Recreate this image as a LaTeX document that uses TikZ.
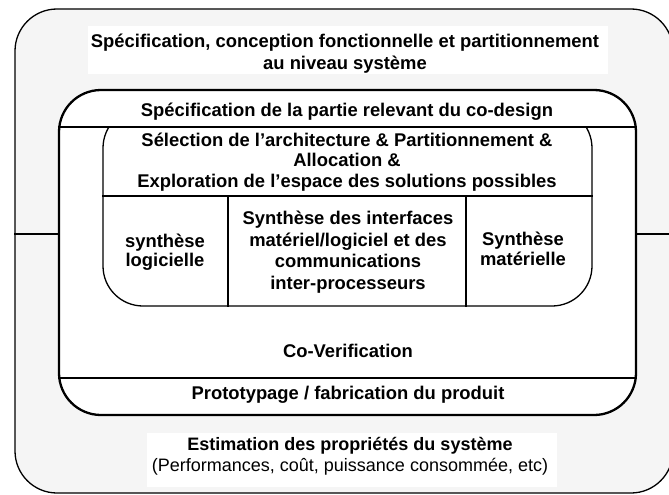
\documentclass[tikz,border=0pt]{standalone}
\usepackage{fontspec}
\setmainfont{Liberation Sans}
\definecolor{bggray}{HTML}{F5F5F5}
\begin{document}
\begin{tikzpicture}[x=1pt,y=-1pt,
  lbl/.style={font=\fontsize{18.4}{22}\selectfont\bfseries, align=center, inner sep=0pt},
  thin/.style={line width=1.3pt},
  thick/.style={line width=2.3pt}]
\useasboundingbox (0,0) rectangle (669,495);
\clip (0,0) rectangle (669,495);
% outer box
\node[draw, thin, fill=bggray, rounded corners=42pt, minimum width=658pt, minimum height=484pt, inner sep=0pt] (outer) at (344,251) {};
% middle box
\node[draw, thick, fill=white, rounded corners=42pt, minimum width=577pt, minimum height=325pt, inner sep=0pt] (mid) at (347.5,252.5) {};
\coordinate (hl) at (0,234);
\coordinate (d1) at (0,127);
\coordinate (d2) at (0,378);
\coordinate (d3) at (0,196);
\coordinate (c1) at (228,0);
\coordinate (c2) at (466,0);
\draw[thin] (outer.west |- hl) -- (mid.west |- hl);
\draw[thin] (mid.east |- hl) -- (outer.east |- hl);
\draw[thin] (mid.west |- d1) -- (mid.east |- d1);
\draw[thin] (mid.west |- d2) -- (mid.east |- d2);
% inner box, top clipped by the divider
\begin{scope}
\clip (0,127) rectangle (669,495);
\node[draw, thin, rounded corners=40pt, minimum width=489pt, minimum height=198pt, inner sep=0pt] (inner) at (347.5,207) {};
\end{scope}
\draw[thin] (inner.west |- d3) -- (inner.east |- d3);
\draw[thin] (c1 |- d3) -- (c1 |- inner.south);
\draw[thin] (c2 |- d3) -- (c2 |- inner.south);
% texts
\node[fill=white, minimum width=520pt, minimum height=48pt, inner sep=0pt] (t1box) at (348,50) {};
\node[lbl] (t1) at (345,54) {Spécification, conception fonctionnelle et partitionnement\\au niveau système};
\node[lbl] (t2) at (347,112) {Spécification de la partie relevant du co-design};
\node[lbl, font=\fontsize{18.4}{20.5}\selectfont\bfseries] (t3) at (347,162) {Sélection de l’architecture \& Partitionnement \&\\Allocation \&\\Exploration de l’espace des solutions possibles};
\node[lbl, font=\fontsize{18.4}{19.5}\selectfont\bfseries] (t4) at (165,252) {synthèse\\logicielle};
\node[lbl, font=\fontsize{18.4}{21.5}\selectfont\bfseries] (t5) at (348,252) {Synthèse des interfaces\\matériel/logiciel et des\\communications\\inter-processeurs};
\node[lbl, font=\fontsize{18.4}{19.5}\selectfont\bfseries] (t6) at (523,249) {Synthèse\\matérielle};
\node[lbl] (t7) at (348,351) {Co-Verification};
\node[lbl] (t8) at (348,395) {Prototypage / fabrication du produit};
\node[fill=white, minimum width=410pt, minimum height=54pt, inner sep=0pt] (t9) at (352,460) {};
\node[lbl, font=\fontsize{18}{21}\selectfont] (t10) at (350,456) {\bfseries Estimation des propriétés du système\\(Performances, coût, puissance consommée, etc)};
\end{tikzpicture}
\end{document}
